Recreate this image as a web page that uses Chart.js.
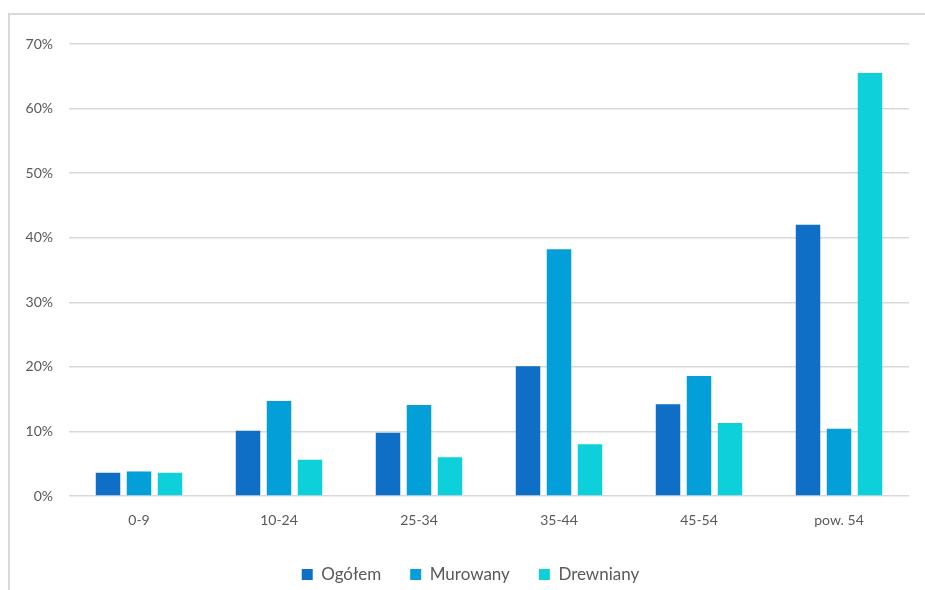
<!DOCTYPE html>
<html>
<head>
<meta charset="utf-8">
<script src="https://cdn.jsdelivr.net/npm/chart.js@4"></script>
<style>
  html, body { margin: 0; padding: 0; background: #fff; }
  body { width: 925px; height: 590px; position: relative; overflow: hidden; }
  #frame { position: absolute; left: 8px; top: 13px; width: 1000px; height: 700px;
           border-top: 2px solid #d9d9d9; border-left: 2px solid #d9d9d9; }
  #wrap { position: absolute; left: 0; top: 0; width: 925px; height: 590px; }
</style>
</head>
<body>
<div id="frame"></div>
<div id="wrap"><canvas id="c" width="925" height="590"></canvas></div>
<script>
// Age groups (years)
const categories = ['0-9', '10-24', '25-34', '35-44', '45-54', 'pow. 54'];
// Share of buildings in each age group, %
const ogolem    = [3.6, 10.1,  9.8, 20.1, 14.2, 42.0];
const murowany  = [3.8, 14.7, 14.1, 38.2, 18.6, 10.4];
const drewniany = [3.6,  5.6,  6.0,  8.0, 11.3, 65.5];
const seriesNames = ['Ogółem', 'Murowany', 'Drewniany'];
const yTicks = [0, 10, 20, 30, 40, 50, 60, 70];

const colors = ['#0F6EC6', '#029FD9', '#0DD0DA'];
const textColor = '#595959';
const fontFamily = 'Lato, "Open Sans", sans-serif';

// Moves the legend row a little down and to the right
const legendNudge = {
  id: 'legendNudge',
  afterLayout(chart) {
    const l = chart.legend;
    if (l) { l.top += 3; l.bottom += 3; l.left += 16; l.right += 16; }
  }
};

new Chart(document.getElementById('c'), {
  type: 'bar',
  data: {
    labels: categories,
    datasets: [ogolem, murowany, drewniany].map((d, i) => ({
      label: seriesNames[i],
      data: d,
      backgroundColor: colors[i],
      borderWidth: 0,
      categoryPercentage: 0.664,
      barPercentage: 0.79
    }))
  },
  plugins: [legendNudge],
  options: {
    responsive: false,
    animation: false,
    layout: { padding: { top: 44, right: 16, bottom: 0, left: 0 } },
    plugins: {
      tooltip: { enabled: false },
      legend: {
        position: 'bottom',
        labels: {
          boxWidth: 11, boxHeight: 11, padding: 29,
          color: textColor,
          font: { family: fontFamily, size: 17 }
        }
      }
    },
    scales: {
      x: {
        grid: { display: false, drawTicks: false },
        border: { display: false },
        ticks: { color: textColor, font: { family: fontFamily, size: 14 }, padding: 16 },
        afterFit(scale) { scale.height = 38; }
      },
      y: {
        min: 0, max: 70,
        afterBuildTicks(scale) { scale.ticks = yTicks.map(v => ({ value: v })); },
        afterFit(scale) { scale.width = 69; },
        grid: { color: '#d9d9d9', lineWidth: 1.5, drawTicks: false },
        border: { display: false },
        ticks: {
          color: textColor, padding: 16,
          font: { family: fontFamily, size: 14 },
          callback: v => v + '%'
        }
      }
    }
  }
});
</script>
</body>
</html>
